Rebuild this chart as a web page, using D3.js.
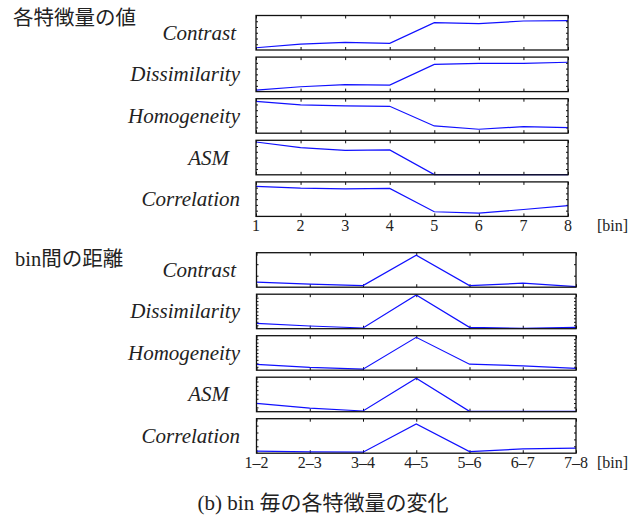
<!DOCTYPE html>
<html><head><meta charset="utf-8">
<script src="https://cdn.jsdelivr.net/npm/d3@7"></script>
<style>body{margin:0;background:#fff}</style>
</head><body>
<script>
// ---- data ----
const featureNames = ["Contrast", "Dissimilarity", "Homogeneity", "ASM", "Correlation"];
const binLabels = ["1", "2", "3", "4", "5", "6", "7", "8"];
const pairLabels = ["1–2", "2–3", "3–4", "4–5", "5–6", "6–7", "7–8"];

// normalised feature values per bin (top block)
const contrastBin      = [0.066, 0.173, 0.222, 0.193, 0.793, 0.764, 0.840, 0.850];
const dissimilarityBin = [0.040, 0.140, 0.200, 0.190, 0.790, 0.820, 0.820, 0.850];
const homogeneityBin   = [0.925, 0.820, 0.790, 0.780, 0.210, 0.115, 0.190, 0.160];
const asmBin           = [0.950, 0.790, 0.710, 0.720, 0.005, 0.005, 0.005, 0.005];
const correlationBin   = [0.870, 0.820, 0.800, 0.810, 0.134, 0.097, 0.200, 0.314];

// normalised distances between bins (bottom block)
const contrastDist      = [0.145, 0.087, 0.046, 0.930, 0.046, 0.116, 0.017];
const dissimilarityDist = [0.157, 0.078, 0.020, 0.980, 0.040, 0.010, 0.040];
const homogeneityDist   = [0.166, 0.080, 0.030, 0.953, 0.175, 0.125, 0.055];
const asmDist           = [0.240, 0.105, 0.020, 0.970, 0.010, 0.010, 0.010];
const correlationDist   = [0.058, 0.040, 0.030, 0.847, 0.046, 0.124, 0.145];

const topSeries = [contrastBin, dissimilarityBin, homogeneityBin, asmBin, correlationBin];
const bottomSeries = [contrastDist, dissimilarityDist, homogeneityDist, asmDist, correlationDist];

const topTitle = "各特徴量の値";
const bottomTitle = "bin間の距離";
const unitLabel = "[bin]";
const caption = "(b) bin 毎の各特徴量の変化";

// ---- drawing ----
const W = 637, H = 515;
const svg = d3.select("body").append("svg").attr("width", W).attr("height", H);
const serif = "'Liberation Serif', 'DejaVu Serif', serif";
const cjk = "'Liberation Serif', 'Noto Sans CJK JP', serif";
const labelRight = {"Contrast": 236, "Dissimilarity": 240, "Homogeneity": 240, "ASM": 229, "Correlation": 240};
const topYTicks = [6, 6, 6, 6, 6];
const bottomYTicks = [3, 10, 10, 8, 5];

function block(cfg) {
  const x = d3.scalePoint().domain(cfg.labels).range([cfg.x0, cfg.x1]).padding(0);
  cfg.series.forEach((vals, i) => {
    const top = cfg.top0 + i * cfg.step;
    const bot = top + cfg.h;
    const y = d3.scaleLinear().domain([0, 1]).range([bot, top]);
    const g = svg.append("g");
    const tk = (sel) => { sel.select(".domain").remove(); sel.selectAll(".tick line").attr("stroke", "#111").attr("stroke-width", 1); sel.selectAll("text").remove(); };
    g.append("g").attr("transform", `translate(0,${bot})`).call(d3.axisTop(x).tickSize(3).tickFormat("")).call(tk);
    g.append("g").attr("transform", `translate(0,${top})`).call(d3.axisBottom(x).tickSize(3).tickFormat("")).call(tk);
    const yt = d3.range(1, cfg.yTicks[i]).map(k => k / cfg.yTicks[i]);
    g.append("g").attr("transform", `translate(${cfg.x0},0)`).call(d3.axisRight(y).tickValues(yt).tickSize(2).tickFormat("")).call(tk);
    g.append("g").attr("transform", `translate(${cfg.x1},0)`).call(d3.axisLeft(y).tickValues(yt).tickSize(2).tickFormat("")).call(tk);
    g.append("path").datum(vals)
      .attr("fill", "none").attr("stroke", "#1010ff").attr("stroke-width", 1.2)
      .attr("d", d3.line().x((d, j) => x(cfg.labels[j])).y(d => y(d)));
    g.append("rect").attr("x", cfg.x0).attr("y", top).attr("width", cfg.x1 - cfg.x0).attr("height", cfg.h)
      .attr("fill", "none").attr("stroke", "#111").attr("stroke-width", 1.3);
    const name = featureNames[i];
    svg.append("text").attr("x", labelRight[name]).attr("y", (top + bot) / 2 + 7)
      .attr("text-anchor", "end").attr("font-family", serif).attr("font-style", "italic")
      .attr("font-size", 21).attr("fill", "#222").text(name);
    if (i === cfg.series.length - 1) {
      cfg.labels.forEach(l => {
        svg.append("text").attr("x", x(l)).attr("y", bot + 15).attr("text-anchor", "middle")
          .attr("font-family", serif).attr("font-size", 16).attr("fill", "#222").text(l);
      });
      svg.append("text").attr("x", 597).attr("y", bot + 15).attr("font-family", serif)
        .attr("font-size", 16).attr("fill", "#222").text(unitLabel);
    }
  });
  svg.append("text").attr("x", cfg.titleX).attr("y", cfg.titleY).attr("font-family", cjk)
    .attr("font-size", 20.5).attr("fill", "#222").text(cfg.title);
}

block({labels: binLabels, series: topSeries, x0: 256, x1: 568, top0: 15.5, step: 41.6, h: 34.5,
       yTicks: topYTicks, title: topTitle, titleX: 13, titleY: 25});
block({labels: pairLabels, series: bottomSeries, x0: 256.5, x1: 576, top0: 252.7, step: 41.5, h: 34.5,
       yTicks: bottomYTicks, title: bottomTitle, titleX: 15, titleY: 266});

svg.append("text").attr("x", 323).attr("y", 510).attr("text-anchor", "middle")
  .attr("font-family", cjk).attr("font-size", 21).attr("fill", "#222").text(caption);
</script>
</body></html>
